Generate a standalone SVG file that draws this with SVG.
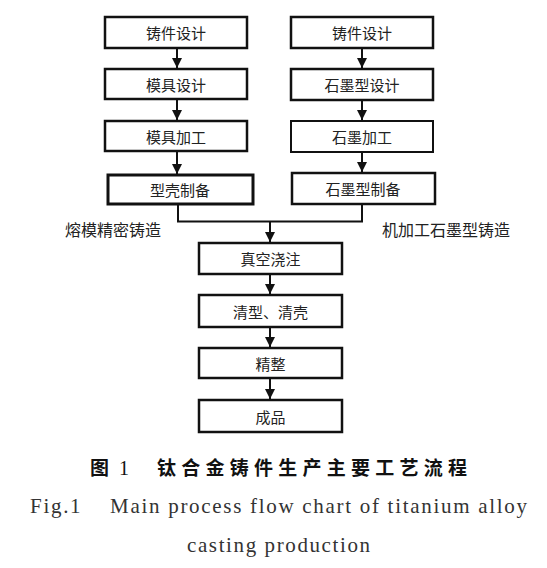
<svg xmlns="http://www.w3.org/2000/svg" width="547" height="568" viewBox="0 0 547 568">
<style>
.box{fill:#fff;stroke:#111;stroke-width:2.5}
.t{font-family:"Noto Sans CJK SC","Noto Sans",sans-serif;font-size:15px;fill:#222;text-anchor:middle;dominant-baseline:central}
.lbl{font-family:"Noto Sans CJK SC","Noto Sans",sans-serif;font-size:16px;fill:#222;dominant-baseline:central}
.c{stroke:#111;stroke-width:2;fill:none}
.cap{font-family:"Noto Sans CJK SC",sans-serif;font-size:19px;font-weight:bold;fill:#111}
.num{font-family:"Liberation Serif",serif;font-size:20px;fill:#111}
.en{font-family:"Liberation Serif","Times New Roman",serif;font-size:21px;fill:#333}
</style>
<defs>
<marker id="ah" viewBox="0 0 10 10" refX="10" refY="5" markerWidth="5" markerHeight="5" orient="auto" markerUnits="strokeWidth">
<path d="M0,0 L10,5 L0,10 z" fill="#111"/>
</marker>
</defs>
<rect width="547" height="568" fill="#fff"/>
<g id="connectors">
<line class="c" x1="177" y1="48" x2="177" y2="68" marker-end="url(#ah)"/>
<line class="c" x1="177" y1="100" x2="177" y2="120" marker-end="url(#ah)"/>
<line class="c" x1="177" y1="152" x2="177" y2="174" marker-end="url(#ah)"/>
<line class="c" x1="362" y1="48" x2="362" y2="68" marker-end="url(#ah)"/>
<line class="c" x1="362" y1="100" x2="362" y2="120" marker-end="url(#ah)"/>
<line class="c" x1="362" y1="152" x2="362" y2="172" marker-end="url(#ah)"/>
<polyline class="c" points="178,204 178,221.5 362,221.5 362,204"/>
<line class="c" x1="270" y1="221.5" x2="270" y2="242" marker-end="url(#ah)"/>
<line class="c" x1="270" y1="274" x2="270" y2="294" marker-end="url(#ah)"/>
<line class="c" x1="270" y1="327" x2="270" y2="347" marker-end="url(#ah)"/>
<line class="c" x1="270" y1="378" x2="270" y2="399" marker-end="url(#ah)"/>
</g>
<g id="n1"><rect class="box" x="105" y="17" width="142" height="31"/><text class="t" x="176" y="32.5">铸件设计</text></g>
<g id="n2"><rect class="box" x="105" y="69" width="142" height="30"/><text class="t" x="176" y="84">模具设计</text></g>
<g id="n3"><rect class="box" x="105" y="121" width="142" height="30"/><text class="t" x="176" y="136">模具加工</text></g>
<g id="n4"><rect class="box" x="108" y="175" width="145" height="29" style="stroke-width:3"/><text class="t" x="180" y="189.5">型壳制备</text></g>
<g id="m1"><rect class="box" x="291" y="17" width="142" height="31"/><text class="t" x="362" y="32.5">铸件设计</text></g>
<g id="m2"><rect class="box" x="291" y="69" width="142" height="31"/><text class="t" x="362" y="84.5">石墨型设计</text></g>
<g id="m3"><rect class="box" x="291" y="121" width="142" height="31" style="stroke-width:2"/><text class="t" x="362" y="136.5">石墨加工</text></g>
<g id="m4"><rect class="box" x="292" y="173" width="143" height="31"/><text class="t" x="363" y="188.5">石墨型制备</text></g>
<g id="lab1"><text class="lbl" x="65" y="229">熔模精密铸造</text></g>
<g id="lab2"><text class="lbl" x="382" y="229">机加工石墨型铸造</text></g>
<g id="c1"><rect class="box" x="199" y="243" width="143" height="31"/><text class="t" x="270.5" y="258.5">真空浇注</text></g>
<g id="c2"><rect class="box" x="199" y="295" width="143" height="32"/><text class="t" x="270.5" y="311">清型、清壳</text></g>
<g id="c3"><rect class="box" x="199" y="348" width="143" height="30"/><text class="t" x="270.5" y="363">精整</text></g>
<g id="c4"><rect class="box" x="199" y="400" width="143" height="32"/><text class="t" x="270.5" y="416">成品</text></g>
<g id="caption">
<text class="cap" x="90" y="475">图</text>
<text class="num" x="119" y="475">1</text>
<text class="cap" x="157" y="475" textLength="310" lengthAdjust="spacing">钛合金铸件生产主要工艺流程</text>
<text class="en" x="30" y="513" textLength="497" lengthAdjust="spacing" xml:space="preserve">Fig.1    Main process flow chart of titanium alloy</text>
<text class="en" x="187" y="552" textLength="183" lengthAdjust="spacing">casting production</text>
</g>
</svg>
